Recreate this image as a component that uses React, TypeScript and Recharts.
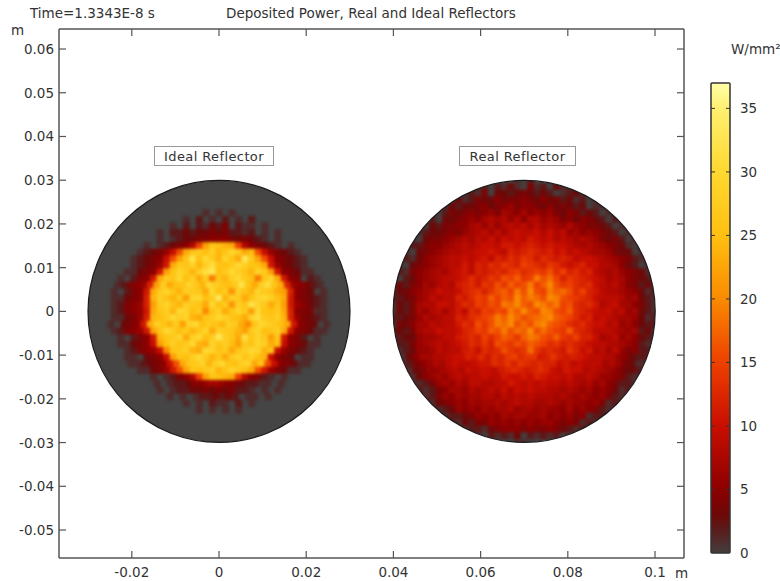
/**
 * Deposited power on the ideal and real reflectors, with a thermal colour bar
 */

import { Bar, BarChart, Scatter, ScatterChart, XAxis, YAxis } from "recharts";

// ============================================================================
// Data
// ============================================================================

const xTicks = [-0.02, 0, 0.02, 0.04, 0.06, 0.08, 0.1];
const yTicks = [0.06, 0.05, 0.04, 0.03, 0.02, 0.01, 0, -0.01, -0.02, -0.03, -0.04, -0.05];
const colorTicks = [0, 5, 10, 15, 20, 25, 30, 35];

const discCenters = [
  { x: 0, y: 0 },
  { x: 0.07, y: 0 },
];
const realCenter = [{ x: 0.07, y: 0 }];

// One row per 0.0015 m, one char per 0.0015 m, centred on the disc.
// Each char is W/mm2 in base 36, "." means nothing deposited.
const idealRows = [
  ".1.1.1.",
  "1.2.1.2.1.2",
  "1.2.21324.211.1",
  "1.2232334342212.1.1",
  "1.12334455543432 1.1",
  "1.123458fmqponf854321.1",
  "12346agnqrpsoqtrnpga64321",
  "12345agmqwpurotqnxrmga54321",
  "12346bnrqtosvqprusqpnb64321",
  "11345bmqtrosvxprusqotrmb54311",
  "1.245bnrqupsnrjqosurpjqtnb54.21",
  "12456cmsnpqtrousqprwqnsvqnc65421",
  "1.245bnrtqosrqnuprlsqotrqnmc543.1",
  "11345cosqormtuprxosrnqtuspnb54321",
  "12456cmrtqosrqnuprlsqwtrnqmb65321",
  "12456bnqsoutprkqsnqtrmuqprnc54411",
  "11346coprustonqrusqpntvrqsoc64321",
  "1.345bnsqormtuprqosrnkqusrpnb543.1",
  "12456bmqusproqtnsrqomrtpqsnb54311",
  "1.245boqrtnsuprxsqnvqtrmqb542.1",
  "11345ampsqruontqspmrqtsnpa54311",
  "12456akqrsonutqrnqsutoqa64321",
  "11.345amqpsuroqnrtqspoa543.11",
  "112345agnqrtosuqpstnqga54311",
  "11346bgmqprsoqtrpngb64311",
  "1.12458fmqponf8542 1.1",
  "1.122355776543221 1.1",
  "1.1223343434221.1.1",
  "1.1.122323 2.11.1",
  "1.1.211.2.1",
  ".1.1.1.1.",
];

const realRows = [
  "102",
  "120213104120311",
  "1214033234323201231",
  "13124335344543534231201",
  "1323345345645543534323011",
  "1024" + "345456476575656435423" + "2011",
  "12033" + "456578786858867645354" + "32021",
  "103244" + "557868689897978768654" + "432011",
  "123345" + "467897979a99a8a896756" + "543201",
  "1034456" + "78798a8a9a9ba9a898787" + "6434201",
  "12245567" + "8989aa9bbabcbabaa9878" + "76543102",
  "10345678" + "899aaba9cbcdcbcab9a98" + "77643301",
  "121356789" + "9a9ab9cbdcedbdcbcb9aa9" + "87654212",
  "103456789" + "9b9cbdcedcfedcedbabcaa" + "88753201",
  "1214567879" + "ab9cbcdcefdefegdfcdbc" + "9878654311",
  "1023567899" + "abdbcedgfhefjgifcedcb" + "a978754321",
  "2324576898" + "bcdbedgehfgjfhkgefdcd" + "a989754231",
  "1335678a99" + "acdeceghfjgkgfjhigdfc" + "b988765312",
  "2234679899" + "cbdfehfhgkhjigkjgfedc" + "a999867321",
  "1324788aa9" + "bdcfegfjikhgkjhjfgdcd" + "b89a775421",
  "1324768979" + "b9dcfegfjhkhgkjgfhdcb" + "a9a8967321",
  "2234687899" + "cbdefgjhkighijkhgfdbc" + "9a98776312",
  "1435779899" + "bdcgegjikgigjkhgfdcdb" + "aa89675322",
  "2324788a99" + "acdfehgjgihkgigfehdcb" + "9998767231",
  "1233677899" + "bcdcfdfhgehjigfhedfcc" + "a789675321",
  "2224678989" + "abdcecgfegfhgfdecdcba" + "9988765212",
  "2123667989" + "9bcadcdgedeiecdcbecab" + "8979645221",
  "213577889" + "aacbdbdcefdeebcecbcba9" + "988653221",
  "212456879" + "a99abbdcecedcdccab9a99" + "978643112",
  "21346678" + "98a9aa9bcdcbcdca9baa89" + "87653321",
  "21356768" + "9899a99baabacbaa9a889" + "86654212",
  "1124676" + "87998899ba9a9a9989878" + "6754221",
  "212457" + "768789 8a8a9a998878767" + "565312",
  "212465" + "767788798989888787676" + "564212",
  "21345" + "657677878988778767665" + "64122",
  "2123" + "656576778677676657565" + "4212",
  "1223465657677667565645122",
  "21324465656565665454121",
  "1221345554544543212",
  "102121302121201",
  "110",
];

// Colour scale: W/mm2 to colour
const thermalStops: [number, string][] = [
  [0, "#453e3e"],
  [2, "#5c1818"],
  [3, "#6e0808"],
  [5, "#8c0000"],
  [10, "#c80e00"],
  [15, "#ee4000"],
  [20, "#fa8a00"],
  [25, "#ffc010"],
  [30, "#ffd830"],
  [35, "#fff070"],
  [37, "#ffffa8"],
];

const colorLevels = [{ name: "W/mm2", level: 37 }];

// ============================================================================
// Helpers
// ============================================================================

const CELL_STEP = 0.0015;
const CELL_PX = 7.2;
const DISC_RADIUS_PX = 131;
const COLOR_MAX = 37;
const FONT = "'DejaVu Sans', sans-serif";
const FONT_SIZE = 13.5;
const TEXT_COLOR = "#333";
const FRAME_COLOR = "#555";

function hexToRgb(hex: string) {
  return [1, 3, 5].map((i) => parseInt(hex.slice(i, i + 2), 16));
}

function thermalColor(value: number) {
  for (let i = 1; i < thermalStops.length; i++) {
    const [v0, c0] = thermalStops[i - 1];
    const [v1, c1] = thermalStops[i];
    if (value <= v1) {
      const t = (value - v0) / (v1 - v0);
      const a = hexToRgb(c0);
      const b = hexToRgb(c1);
      const mix = a.map((channel, k) => Math.round(channel + (b[k] - channel) * t));
      return `rgb(${mix.join(",")})`;
    }
  }
  return thermalStops[thermalStops.length - 1][1];
}

function gridPoints(rows: string[], centerX: number) {
  const midRow = (rows.length - 1) / 2;
  return rows.flatMap((source, r) => {
    const row = source.replace(/ /g, "");
    return [...row].flatMap((ch, c) => {
      const value = parseInt(ch, 36);
      if (Number.isNaN(value)) return [];
      return [
        {
          x: centerX + (c - (row.length - 1) / 2) * CELL_STEP,
          y: (midRow - r) * CELL_STEP,
          value,
        },
      ];
    });
  });
}

const idealCells = gridPoints(idealRows, 0);
const realCells = gridPoints(realRows, 0.07);

// ============================================================================
// Shapes and ticks
// ============================================================================

function CellShape({ cx, cy, payload }: any) {
  return (
    <rect
      x={cx - CELL_PX / 2}
      y={cy - CELL_PX / 2}
      width={CELL_PX}
      height={CELL_PX}
      fill={thermalColor(payload.value)}
    />
  );
}

function DiscBase({ cx, cy }: any) {
  return <circle cx={cx} cy={cy} r={DISC_RADIUS_PX} fill="#454545" />;
}

function DiscOutline({ cx, cy }: any) {
  return <circle cx={cx} cy={cy} r={DISC_RADIUS_PX} fill="none" stroke="#1c1c1c" strokeWidth={1.2} />;
}

// Hides the cells that stick out over the rim of the real reflector
function DiscMask({ cx, cy }: any) {
  return <circle cx={cx} cy={cy} r={DISC_RADIUS_PX + 11} fill="none" stroke="#fff" strokeWidth={22} />;
}

function ColorBarShape({ x, y, width, height }: any) {
  return (
    <g>
      <rect x={x} y={y} width={width} height={height} rx={1} fill="url(#thermal)" stroke="#333" strokeWidth={1.5} />
      {colorTicks.slice(1).map((tick) => {
        const tickY = y + height * (1 - tick / COLOR_MAX);
        return (
          <g key={tick} stroke="#333" strokeWidth={1}>
            <line x1={x} x2={x + 4} y1={tickY} y2={tickY} />
            <line x1={x + width - 4} x2={x + width} y1={tickY} y2={tickY} />
          </g>
        );
      })}
    </g>
  );
}

function BottomTick({ x, y, payload }: any) {
  return (
    <g>
      <line x1={x} x2={x} y1={y} y2={y - 7} stroke={FRAME_COLOR} strokeWidth={1.2} />
      <text x={x} y={y + 19} textAnchor="middle" fontSize={FONT_SIZE} fontFamily={FONT} fill={TEXT_COLOR}>
        {payload.value}
      </text>
    </g>
  );
}

function TopTick({ x, y }: any) {
  return <line x1={x} x2={x} y1={y} y2={y + 7} stroke={FRAME_COLOR} strokeWidth={1.2} />;
}

function LeftTick({ x, y, payload }: any) {
  return (
    <g>
      <line x1={x} x2={x + 7} y1={y} y2={y} stroke={FRAME_COLOR} strokeWidth={1.2} />
      <text x={x - 5} y={y + 5} textAnchor="end" fontSize={FONT_SIZE} fontFamily={FONT} fill={TEXT_COLOR}>
        {payload.value}
      </text>
    </g>
  );
}

function RightTick({ x, y }: any) {
  return <line x1={x} x2={x - 7} y1={y} y2={y} stroke={FRAME_COLOR} strokeWidth={1.2} />;
}

function ColorTick({ x, y, payload }: any) {
  return (
    <text x={x + 10} y={y + 5} textAnchor="start" fontSize={FONT_SIZE} fontFamily={FONT} fill={TEXT_COLOR}>
      {payload.value}
    </text>
  );
}

function Label({ left, top, children }: { left: number; top: number; children: string }) {
  return (
    <span
      style={{
        position: "absolute",
        left,
        top,
        fontFamily: FONT,
        fontSize: FONT_SIZE,
        lineHeight: "16px",
        color: TEXT_COLOR,
        whiteSpace: "nowrap",
      }}
    >
      {children}
    </span>
  );
}

function BoxLabel({ left, width, children }: { left: number; width: number; children: string }) {
  return (
    <div
      style={{
        position: "absolute",
        left,
        top: 146,
        width,
        height: 20,
        boxSizing: "border-box",
        border: "1px solid #999",
        background: "#fff",
        fontFamily: FONT,
        fontSize: 13,
        lineHeight: "19px",
        letterSpacing: 0.4,
        color: TEXT_COLOR,
        textAlign: "center",
      }}
    >
      {children}
    </div>
  );
}

// ============================================================================
// Component
// ============================================================================

const X_DOMAIN = [-0.0367, 0.10665];
const Y_DOMAIN = [-0.0564, 0.06458];

export default function App() {
  const axisLine = { stroke: FRAME_COLOR, strokeWidth: 1.5 };
  return (
    <div style={{ position: "absolute", left: 0, top: 0, width: 780, height: 581, overflow: "hidden", background: "#fff" }}>
      <style>{`.disc-cells { filter: blur(1.8px); }`}</style>

      <ScatterChart width={780} height={581} margin={{ top: 0, right: 0, bottom: 0, left: 0 }}>
        <XAxis
          type="number"
          dataKey="x"
          domain={X_DOMAIN}
          ticks={xTicks}
          interval={0}
          height={23}
          tickSize={0}
          tickMargin={0}
          tickLine={false}
          axisLine={axisLine}
          allowDataOverflow
          tick={BottomTick}
        />
        <XAxis
          xAxisId="top"
          orientation="top"
          type="number"
          dataKey="x"
          domain={X_DOMAIN}
          ticks={xTicks}
          interval={0}
          height={29}
          tickSize={0}
          tickMargin={0}
          tickLine={false}
          axisLine={axisLine}
          allowDataOverflow
          tick={TopTick}
        />
        <YAxis
          type="number"
          dataKey="y"
          domain={Y_DOMAIN}
          ticks={yTicks}
          interval={0}
          width={59}
          tickSize={0}
          tickMargin={0}
          tickLine={false}
          axisLine={axisLine}
          allowDataOverflow
          tick={LeftTick}
        />
        <YAxis
          yAxisId="right"
          orientation="right"
          type="number"
          dataKey="y"
          domain={Y_DOMAIN}
          ticks={yTicks}
          interval={0}
          width={96}
          tickSize={0}
          tickMargin={0}
          tickLine={false}
          axisLine={axisLine}
          allowDataOverflow
          tick={RightTick}
        />
        <Scatter data={discCenters} shape={DiscBase} isAnimationActive={false} />
        <Scatter data={idealCells} shape={CellShape} className="disc-cells" isAnimationActive={false} />
        <Scatter data={realCells} shape={CellShape} className="disc-cells" isAnimationActive={false} />
        <Scatter data={realCenter} shape={DiscMask} isAnimationActive={false} />
        <Scatter data={discCenters} shape={DiscOutline} isAnimationActive={false} />
      </ScatterChart>

      <div style={{ position: "absolute", left: 709, top: 81 }}>
        <BarChart
          width={71}
          height={484}
          data={colorLevels}
          barCategoryGap={0}
          margin={{ top: 2, right: 0, bottom: 12, left: 2 }}
        >
          <defs>
            <linearGradient id="thermal" x1="0" y1="1" x2="0" y2="0">
              {thermalStops.map(([value, color]) => (
                <stop key={value} offset={value / COLOR_MAX} stopColor={color} />
              ))}
            </linearGradient>
          </defs>
          <XAxis dataKey="name" hide />
          <YAxis
            orientation="right"
            type="number"
            domain={[0, COLOR_MAX]}
            ticks={colorTicks}
            interval={0}
            width={50}
            tickSize={0}
            tickMargin={0}
            tickLine={false}
            axisLine={false}
            tick={ColorTick}
          />
          <Bar dataKey="level" shape={ColorBarShape} isAnimationActive={false} />
        </BarChart>
      </div>

      <Label left={30} top={5}>Time=1.3343E-8 s</Label>
      <Label left={226} top={5}>Deposited Power, Real and Ideal Reflectors</Label>
      <Label left={11} top={22}>m</Label>
      <Label left={675} top={565}>m</Label>
      <Label left={731} top={41}>W/mm²</Label>
      <BoxLabel left={154} width={120}>Ideal Reflector</BoxLabel>
      <BoxLabel left={459} width={117}>Real Reflector</BoxLabel>
    </div>
  );
}
